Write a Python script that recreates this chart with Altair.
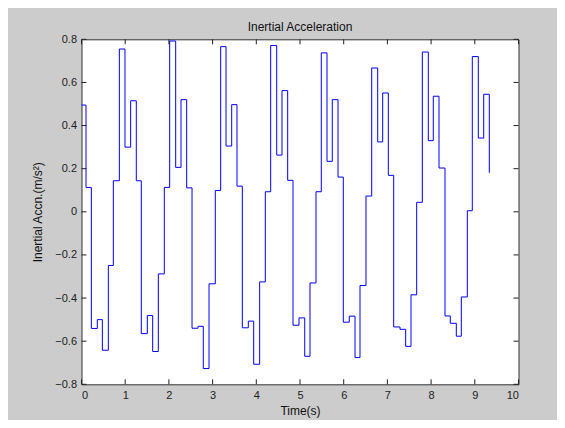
import altair as alt
import pandas as pd

# Step start times (s) and inertial acceleration values (m/s^2)
time_s = [0.000, 0.103, 0.225, 0.362, 0.477, 0.614, 0.728, 0.866, 0.995, 1.125,
          1.254, 1.368, 1.506, 1.629, 1.758, 1.895, 2.018, 2.155, 2.277, 2.407,
          2.529, 2.666, 2.787, 2.918, 3.062, 3.185, 3.307, 3.437, 3.558, 3.680,
          3.817, 3.940, 4.077, 4.206, 4.329, 4.467, 4.588, 4.718, 4.840, 4.977,
          5.108, 5.229, 5.366, 5.487, 5.618, 5.739, 5.870, 5.991, 6.128, 6.259,
          6.373, 6.510, 6.641, 6.778, 6.892, 7.021, 7.144, 7.288, 7.418, 7.540,
          7.670, 7.799, 7.936, 8.050, 8.181, 8.318, 8.439, 8.577, 8.691, 8.829,
          8.943, 9.080, 9.204, 9.332]
accel = [0.495, 0.113, -0.541, -0.500, -0.642, -0.249, 0.144, 0.755, 0.300, 0.515,
         0.144, -0.565, -0.481, -0.648, -0.288, 0.113, 0.792, 0.206, 0.520, 0.111,
         -0.540, -0.531, -0.727, -0.334, 0.099, 0.766, 0.305, 0.497, 0.119, -0.538,
         -0.507, -0.707, -0.325, 0.093, 0.771, 0.263, 0.562, 0.146, -0.526, -0.492,
         -0.670, -0.330, 0.093, 0.737, 0.234, 0.520, 0.161, -0.512, -0.484, -0.676,
         -0.342, 0.073, 0.667, 0.324, 0.551, 0.169, -0.534, -0.545, -0.624, -0.385,
         0.044, 0.741, 0.330, 0.536, 0.203, -0.483, -0.517, -0.577, -0.395, 0.005,
         0.720, 0.342, 0.545, 0.181]

x_ticks = [0, 1, 2, 3, 4, 5, 6, 7, 8, 9, 10]
y_ticks = [-0.8, -0.6, -0.4, -0.2, 0.0, 0.2, 0.4, 0.6, 0.8]

W, H = 437, 345
FONT = "Liberation Sans"

df = pd.DataFrame({"t": time_s, "a": accel})
xt = pd.DataFrame({"t": x_ticks})
yt = pd.DataFrame({"a": y_ticks})

xs = alt.Scale(domain=[0, 10], nice=False, zero=False)
ys = alt.Scale(domain=[-0.8, 0.8], nice=False, zero=False)

x_axis = alt.Axis(
    values=x_ticks, title="Time(s)", grid=False, domain=False, ticks=False,
    labelFont=FONT, labelFontSize=11, labelColor="#222222", labelPadding=5,
    titleFont=FONT, titleFontSize=12, titleFontWeight="normal",
    titleColor="#111111", titlePadding=5)
y_axis = alt.Axis(
    values=y_ticks, title="Inertial Accn.(m/s²)", grid=False, domain=False,
    ticks=False, labelExpr="datum.value == 0 ? '0' : format(datum.value, '.1f')",
    labelFont=FONT, labelFontSize=11, labelColor="#222222", labelPadding=5,
    titleFont=FONT, titleFontSize=12, titleFontWeight="normal",
    titleColor="#111111", titlePadding=10)

line = alt.Chart(df).mark_line(
    color="#0000ff", strokeWidth=1, interpolate="step-after"
).encode(
    x=alt.X("t:Q", scale=xs, axis=x_axis),
    y=alt.Y("a:Q", scale=ys, axis=y_axis),
)

tick_color = "#222222"
xb = alt.Chart(xt).mark_rule(color=tick_color, strokeWidth=1).encode(
    x=alt.X("t:Q", scale=xs, axis=x_axis), y=alt.value(H - 5), y2=alt.value(H))
xtop = alt.Chart(xt).mark_rule(color=tick_color, strokeWidth=1).encode(
    x=alt.X("t:Q", scale=xs, axis=x_axis), y=alt.value(0), y2=alt.value(5))
yl = alt.Chart(yt).mark_rule(color=tick_color, strokeWidth=1).encode(
    y=alt.Y("a:Q", scale=ys, axis=y_axis), x=alt.value(0), x2=alt.value(5))
yr = alt.Chart(yt).mark_rule(color=tick_color, strokeWidth=1).encode(
    y=alt.Y("a:Q", scale=ys, axis=y_axis), x=alt.value(W - 5), x2=alt.value(W))

chart = alt.layer(line, xb, xtop, yl, yr).properties(
    width=W, height=H,
    title=alt.TitleParams("Inertial Acceleration", font=FONT, fontSize=12,
                          fontWeight="normal", color="#111111", offset=-1),
    background="#cccccc",
    autosize=alt.AutoSizeParams(type="none"),
    padding={"left": 73.5, "top": 31.3, "right": 38.5, "bottom": 35.7},
).configure_view(
    fill="white", stroke="#333333", strokeWidth=1
)

chart.save("out.html", embed_options={"renderer": "svg", "actions": False})
